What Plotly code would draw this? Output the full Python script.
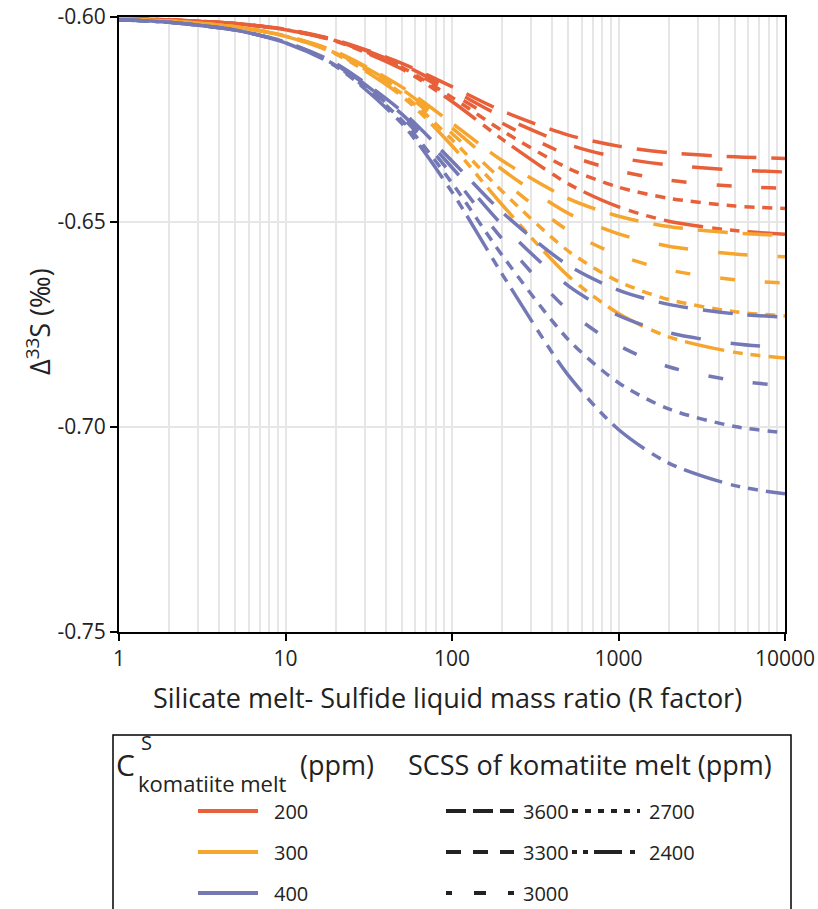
import plotly.graph_objects as go

# R factor sample points (silicate melt / sulfide liquid mass ratio)
R = [1, 2, 5, 10, 20, 50, 100, 200, 500, 1000, 2000, 5000, 10000]

scss_levels = ["3600", "3300", "3000", "2700", "2400"]
cs_levels = ["200", "300", "400"]

# Delta33S (permil), C_S = 200 ppm
red_3600 = [-0.6003, -0.6007, -0.6016, -0.6030, -0.6056, -0.6113, -0.6170, -0.6229, -0.6288, -0.6315, -0.6331, -0.6341, -0.6345]
red_3300 = [-0.6003, -0.6007, -0.6016, -0.6031, -0.6057, -0.6116, -0.6178, -0.6243, -0.6311, -0.6343, -0.6361, -0.6373, -0.6378]
red_3000 = [-0.6003, -0.6007, -0.6016, -0.6031, -0.6058, -0.6120, -0.6187, -0.6259, -0.6337, -0.6375, -0.6398, -0.6413, -0.6418]
red_2700 = [-0.6003, -0.6007, -0.6016, -0.6031, -0.6058, -0.6123, -0.6196, -0.6277, -0.6369, -0.6415, -0.6442, -0.6461, -0.6467]
red_2400 = [-0.6003, -0.6007, -0.6016, -0.6031, -0.6059, -0.6127, -0.6206, -0.6298, -0.6407, -0.6463, -0.6498, -0.6521, -0.6530]

# C_S = 300 ppm
orange_3600 = [-0.6005, -0.6010, -0.6024, -0.6046, -0.6084, -0.6171, -0.6259, -0.6350, -0.6443, -0.6486, -0.6511, -0.6527, -0.6533]
orange_3300 = [-0.6005, -0.6010, -0.6024, -0.6046, -0.6086, -0.6176, -0.6271, -0.6372, -0.6479, -0.6529, -0.6559, -0.6578, -0.6585]
orange_3000 = [-0.6005, -0.6010, -0.6024, -0.6046, -0.6087, -0.6181, -0.6284, -0.6397, -0.6521, -0.6581, -0.6617, -0.6641, -0.6649]
orange_2700 = [-0.6005, -0.6010, -0.6024, -0.6047, -0.6088, -0.6187, -0.6299, -0.6425, -0.6571, -0.6645, -0.6689, -0.6719, -0.6729]
orange_2400 = [-0.6005, -0.6010, -0.6024, -0.6047, -0.6090, -0.6193, -0.6314, -0.6458, -0.6632, -0.6723, -0.6780, -0.6818, -0.6832]

# C_S = 400 ppm
blue_3600 = [-0.6007, -0.6013, -0.6032, -0.6061, -0.6113, -0.6230, -0.6351, -0.6476, -0.6606, -0.6666, -0.6701, -0.6724, -0.6732]
blue_3300 = [-0.6007, -0.6013, -0.6032, -0.6062, -0.6115, -0.6237, -0.6367, -0.6507, -0.6656, -0.6728, -0.6770, -0.6797, -0.6807]
blue_3000 = [-0.6007, -0.6013, -0.6032, -0.6062, -0.6116, -0.6244, -0.6385, -0.6541, -0.6716, -0.6801, -0.6853, -0.6887, -0.6899]
blue_2700 = [-0.6007, -0.6013, -0.6032, -0.6063, -0.6118, -0.6252, -0.6405, -0.6581, -0.6787, -0.6892, -0.6956, -0.6999, -0.7014]
blue_2400 = [-0.6007, -0.6013, -0.6032, -0.6063, -0.6120, -0.6260, -0.6427, -0.6627, -0.6874, -0.7006, -0.7088, -0.7143, -0.7163]

x_tickvals = [1, 10, 100, 1000, 10000]
x_ticktext = ["1", "10", "100", "1000", "10000"]
y_tickvals = [-0.75, -0.70, -0.65, -0.60]
y_ticktext = ["-0.75", "-0.70", "-0.65", "-0.60"]

colors = {"200": "#E8603A", "300": "#F6A62E", "400": "#7479B5"}
dashes = {
    "3600": "30px,15px",
    "3300": "30px,30px",
    "3000": "15px,30px",
    "2700": "10px,8px",
    "2400": "40px,9px,10px,8px,10px,8px",
}
legend_dashes = {
    "3600": "20px,7px",
    "3300": "15px,12px",
    "3000": "6px,22px,12px,22px",
    "2700": "6px,7px",
    "2400": "5px,6px,5px,6px,28px,8px,5px,20px",
}

series = {
    "200": [red_3600, red_3300, red_3000, red_2700, red_2400],
    "300": [orange_3600, orange_3300, orange_3000, orange_2700, orange_2400],
    "400": [blue_3600, blue_3300, blue_3000, blue_2700, blue_2400],
}

FONT = "Open Sans"
TXT = "#222"
W, H = 818, 909
L, RM, T, B = 119, 33, 17, 277
PW, PH = W - L - RM, H - T - B


def px2x(px):
    return (px - L) / PW


def px2y(py):
    return (H - B - py) / PH


fig = go.Figure()
for cs in cs_levels:
    for scss, vals in zip(scss_levels, series[cs]):
        fig.add_trace(go.Scatter(
            x=R, y=vals, mode="lines",
            line=dict(color=colors[cs], width=3.5, dash=dashes[scss], shape="spline", smoothing=0.8),
            name=f"{cs} ppm / SCSS {scss}", showlegend=False, hoverinfo="skip",
        ))

minor_vals = [m * 10 ** d for d in range(4) for m in range(2, 10)]

fig.update_xaxes(
    type="log", range=[0, 4], automargin=False,
    tickvals=x_tickvals, ticktext=x_ticktext,
    ticks="outside", ticklen=7, tickwidth=2, tickcolor="black",
    showline=True, linecolor="black", linewidth=2, mirror=True,
    showgrid=True, gridcolor="#e6e6e6", gridwidth=1.5,
    minor=dict(tickvals=minor_vals, showgrid=True, gridcolor="#e6e6e6", gridwidth=1.5, ticks=""),
    tickfont=dict(family=FONT, size=21, color=TXT),
    zeroline=False,
)
fig.update_yaxes(
    range=[-0.75, -0.60], automargin=False,
    tickvals=y_tickvals, ticktext=y_ticktext,
    ticks="outside", ticklen=7, tickwidth=2, tickcolor="black",
    showline=True, linecolor="black", linewidth=2, mirror=True,
    showgrid=True, gridcolor="#e6e6e6", gridwidth=1.5,
    tickfont=dict(family=FONT, size=21, color=TXT),
    zeroline=False,
)

annotations = [
    dict(text="Silicate melt- Sulfide liquid mass ratio (R factor)", x=px2x(447), y=px2y(697),
         xanchor="center", yanchor="middle", font=dict(family=FONT, size=27, color=TXT)),
    dict(text="Δ<sup>33</sup>S (‰)", x=px2x(38), y=px2y(322), textangle=-90,
         xanchor="center", yanchor="middle", font=dict(family=FONT, size=27, color=TXT)),
    # legend header
    dict(text="C", x=px2x(114), y=px2y(764), xanchor="left", yanchor="middle",
         font=dict(family=FONT, size=30, color=TXT)),
    dict(text="S", x=px2x(139), y=px2y(742), xanchor="left", yanchor="middle",
         font=dict(family=FONT, size=20, color=TXT)),
    dict(text="komatiite melt", x=px2x(136), y=px2y(783), xanchor="left", yanchor="middle",
         font=dict(family=FONT, size=22, color=TXT)),
    dict(text="(ppm)", x=px2x(298), y=px2y(764), xanchor="left", yanchor="middle",
         font=dict(family=FONT, size=27, color=TXT)),
    dict(text="SCSS of komatiite melt (ppm)", x=px2x(406), y=px2y(764), xanchor="left", yanchor="middle",
         font=dict(family=FONT, size=27, color=TXT)),
]

shapes = [
    dict(type="rect", xref="paper", yref="paper", x0=px2x(113), x1=px2x(791), y0=px2y(735), y1=px2y(915),
         line=dict(color="black", width=1.5), fillcolor="rgba(0,0,0,0)"),
]

row_y = [811, 852, 893]
for cs, yy in zip(cs_levels, row_y):
    shapes.append(dict(type="line", xref="paper", yref="paper", x0=px2x(198), x1=px2x(258),
                       y0=px2y(yy), y1=px2y(yy), line=dict(color=colors[cs], width=4)))
    annotations.append(dict(text=cs, x=px2x(272), y=px2y(yy), xanchor="left", yanchor="middle",
                            font=dict(family=FONT, size=20, color=TXT)))

legend_pos = {
    "3600": (446, 811), "3300": (446, 852), "3000": (446, 893),
    "2700": (572, 811), "2400": (572, 852),
}
for scss in scss_levels:
    x0, yy = legend_pos[scss]
    shapes.append(dict(type="line", xref="paper", yref="paper", x0=px2x(x0), x1=px2x(x0 + 68),
                       y0=px2y(yy), y1=px2y(yy), line=dict(color=TXT, width=4, dash=legend_dashes[scss])))
    annotations.append(dict(text=scss, x=px2x(x0 + 75), y=px2y(yy), xanchor="left", yanchor="middle",
                            font=dict(family=FONT, size=20, color=TXT)))

for a in annotations:
    a.update(xref="paper", yref="paper", showarrow=False)

fig.update_layout(
    width=W, height=H,
    margin=dict(l=L, r=RM, t=T, b=B, pad=0),
    plot_bgcolor="white", paper_bgcolor="white",
    annotations=annotations, shapes=shapes,
    showlegend=False,
)

fig.write_html("out.html")
